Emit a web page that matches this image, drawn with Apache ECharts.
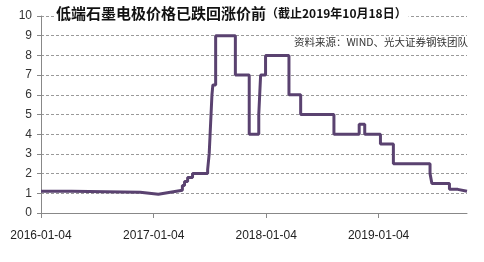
<!DOCTYPE html>
<html><head><meta charset="utf-8">
<script src="https://cdn.jsdelivr.net/npm/echarts@6/dist/echarts.min.js"></script>
<style>html,body{margin:0;padding:0;background:#fff}#c{width:484px;height:262px}</style>
</head><body><div id="c"></div>
<script>
// change dates and the price level from that date (step chart)
var dates = ['2016-01-04','2016-04-13','2016-11-21','2017-01-19','2017-02-27','2017-04-07','2017-04-14','2017-04-24','2017-05-10','2017-06-28','2017-07-03','2017-07-06','2017-07-09','2017-07-12','2017-07-15','2017-07-24','2017-09-26','2017-11-10','2017-12-11','2017-12-17','2018-01-02','2018-03-19','2018-04-26','2018-08-12','2018-11-02','2018-11-20','2019-01-10','2019-02-21','2019-06-20','2019-06-26','2019-08-22','2019-09-18','2019-10-18'];
var prices = [1.1,1.05,0.95,1.05,1.15,1.4,1.6,1.8,2.0,2.2,3.0,4.0,5.0,6.0,6.5,9.0,7.0,4.0,5.0,7.0,8.0,6.0,5.0,4.0,4.5,4.0,3.5,2.5,2.0,1.5,1.2,1.1,1.1];
var xTickLabels = ['2016-01-04','2017-01-04','2018-01-04','2019-01-04'];
var titleMain = '低端石墨电极价格已跌回涨价前';
var titleSub = '（截止2019年10月18日）';
var sourceText = '资料来源：WIND、光大证券钢铁团队';

function ts(d){ var p = d.split('-'); return Date.UTC(+p[0], +p[1] - 1, +p[2]); }
function fmt(v){ var d = new Date(v); function z(n){ return (n < 10 ? '0' : '') + n; }
  return d.getUTCFullYear() + '-' + z(d.getUTCMonth() + 1) + '-' + z(d.getUTCDate()); }

var chart = echarts.init(document.getElementById('c'));
var tickTs = xTickLabels.map(ts);
var seriesData = dates.map(function(d, i){ return [ts(d), prices[i]]; });
chart.setOption({
  animation: false,
  backgroundColor: '#fff',
  title: {
    text: '{a|' + titleMain + '}{b|' + titleSub + '}',
    left: 54, top: 4, padding: [2, 2, 2, 2],
    backgroundColor: '#fff',
    textStyle: {
      rich: {
        a: { fontSize: 15, fontWeight: 'bold', color: '#111', fontFamily: 'Noto Sans CJK SC' },
        b: { fontSize: 12, fontWeight: 'bold', color: '#111', fontFamily: 'Noto Sans CJK SC' }
      }
    }
  },
  graphic: [{
    type: 'text', right: 16, top: 37,
    style: { text: sourceText, fontSize: 10.5, fill: '#333', fontFamily: 'Noto Sans CJK SC' }
  }],
  grid: { left: 41, right: 17, top: 16, bottom: 49 },
  xAxis: {
    type: 'value',
    min: ts(dates[0]), max: ts(dates[dates.length - 1]),
    axisLine: { lineStyle: { color: '#888', width: 1 } },
    axisTick: { show: true, customValues: tickTs, length: 5, lineStyle: { color: '#888' } },
    axisLabel: {
      customValues: tickTs, margin: 17, fontSize: 12, color: '#222', fontFamily: 'Liberation Sans',
      formatter: function(v){ return fmt(v); }
    },
    splitLine: { show: false }
  },
  yAxis: {
    type: 'value', min: 0, max: 10, interval: 1,
    axisLine: { show: true, lineStyle: { color: '#888', width: 1 } },
    axisTick: { show: true, inside: false, length: 4, lineStyle: { color: '#888' } },
    axisLabel: { fontSize: 12, color: '#333', margin: 9, fontFamily: 'Liberation Sans' },
    splitLine: { show: true, lineStyle: { type: [3, 2], color: '#9a9a9a', width: 1 } }
  },
  series: [{
    type: 'line', step: 'end', data: seriesData, showSymbol: false,
    lineStyle: { color: '#5a4270', width: 3 },
    z: 3
  }]
});
</script></body></html>
